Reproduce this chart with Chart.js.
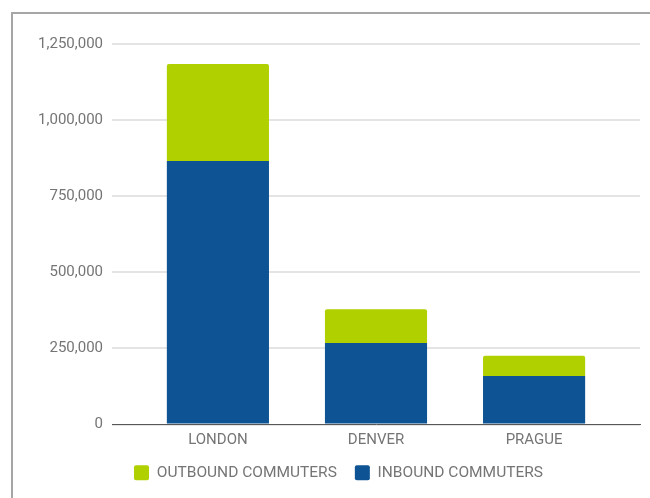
<!DOCTYPE html>
<html>
<head>
<meta charset="utf-8">
<script src="https://cdn.jsdelivr.net/npm/chart.js@4/dist/chart.umd.min.js"></script>
<style>
  html, body { margin: 0; padding: 0; background: #fff; overflow: hidden; }
  #frame {
    position: absolute; left: 11px; top: 12px; width: 700px; height: 600px;
    border-top: 2px solid #a6a6a6; border-left: 2px solid #a6a6a6;
  }
  #wrap { position: absolute; left: 0; top: 0; width: 650px; height: 498px; }
</style>
</head>
<body>
<div id="frame"></div>
<div id="wrap"><canvas id="commuterChart" width="650" height="498"></canvas></div>
<script>
const cities = ['LONDON', 'DENVER', 'PRAGUE'];
const inbound = [866000, 268000, 159000];
const outbound = [318000, 111000, 67000];
const yTicks = [0, 250000, 500000, 750000, 1000000, 1250000];

const textColor = '#757575';
const font = { family: 'Roboto', size: 15 };

// bars sit on a linear x scale so the plot can keep some space either side
const toPoints = values => values.map((v, i) => ({ x: i, y: v }));

new Chart(document.getElementById('commuterChart'), {
    type: 'bar',
    data: {
        datasets: [
            {
                label: 'INBOUND COMMUTERS',
                data: toPoints(inbound),
                backgroundColor: '#0e5394'
            },
            {
                label: 'OUTBOUND COMMUTERS',
                data: toPoints(outbound),
                backgroundColor: '#b1d000',
                borderRadius: { topLeft: 2, topRight: 2 },
                borderSkipped: 'bottom'
            }
        ]
    },
    options: {
        responsive: false,
        animation: false,
        categoryPercentage: 1,
        barPercentage: 0.646,
        layout: { padding: { left: 37, right: 10, top: 44, bottom: 7.5 } },
        plugins: {
            tooltip: { enabled: false },
            legend: {
                position: 'bottom',
                reverse: true,
                labels: {
                    color: textColor,
                    font: { family: 'Roboto', size: 15.5 },
                    boxWidth: 15,
                    boxHeight: 15,
                    padding: 18,
                    useBorderRadius: true,
                    borderRadius: 2
                }
            }
        },
        scales: {
            x: {
                type: 'linear',
                stacked: true,
                offset: false,
                min: -0.67,
                max: 2.67,
                afterBuildTicks: scale => {
                    scale.ticks = cities.map((c, i) => ({ value: i }));
                },
                afterFit: scale => { scale.height = 22.5; },
                grid: { display: false, drawTicks: false },
                border: { display: true, color: '#575757', width: 1 },
                ticks: {
                    color: textColor,
                    font: font,
                    padding: 7,
                    callback: v => cities[v]
                }
            },
            y: {
                stacked: true,
                min: 0,
                max: 1250000,
                afterBuildTicks: scale => {
                    scale.ticks = yTicks.map(v => ({ value: v }));
                },
                afterFit: scale => { scale.width = 75; },
                grid: { color: '#e4e4e4', lineWidth: 2, drawTicks: false },
                border: { display: false },
                ticks: {
                    color: textColor,
                    font: font,
                    padding: 9,
                    callback: v => v.toLocaleString('en-US')
                }
            }
        }
    }
});
</script>
</body>
</html>
